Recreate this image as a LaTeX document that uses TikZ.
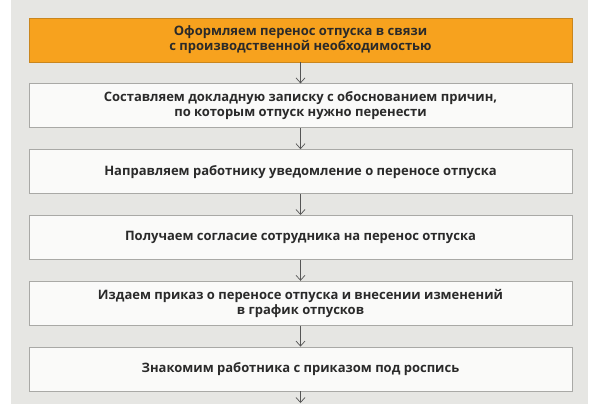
\documentclass[tikz,border=0pt]{standalone}
\usepackage{fontspec}
\setmainfont{Open Sans}
\usetikzlibrary{arrows.meta,positioning}
\definecolor{panelgray}{HTML}{E6E6E3}
\definecolor{stepedge}{HTML}{A9A9A6}
\definecolor{stepfill}{HTML}{FAFAF9}
\definecolor{orangefill}{HTML}{F7A21E}
\definecolor{orangeedge}{HTML}{C9861E}
\definecolor{steptext}{HTML}{2A2A2A}
\definecolor{arrowgray}{HTML}{555555}
\tikzset{
  stepbox/.style={draw=stepedge, fill=stepfill, line width=0.8pt, align=center,
    minimum width=543pt, minimum height=44pt, inner sep=0pt, text=steptext,
    font=\fontsize{13}{15}\selectfont\bfseries},
  firstbox/.style={stepbox, draw=orangeedge, fill=orangefill},
  flow/.style={->, draw=arrowgray, line width=0.7pt}
}
\begin{document}
\begin{tikzpicture}[>={Straight Barb[length=5pt,width=9pt]}, node distance=21pt]
    \useasboundingbox (0,0) rectangle (599pt,-404pt);
    \fill[panelgray] (11pt,0) rectangle (588pt,-404pt);
    \node[firstbox] (start) at (300.5pt,-40pt) {Оформляем перенос отпуска в связи\\с производственной необходимостью};
    \node[stepbox, below=of start] (memo) {Составляем докладную записку с обоснованием причин,\\по которым отпуск нужно перенести};
    \node[stepbox, below=of memo] (notice) {Направляем работнику уведомление о переносе отпуска};
    \node[stepbox, below=of notice] (consent) {Получаем согласие сотрудника на перенос отпуска};
    \node[stepbox, below=of consent] (order) {Издаем приказ о переносе отпуска и внесении изменений\\в график отпусков};
    \node[stepbox, below=of order] (sign) {Знакомим работника с приказом под роспись};
    \coordinate (next) at (300.5pt,-403pt);
    \draw[flow] (start) -- (memo);
    \draw[flow] (memo) -- (notice);
    \draw[flow] (notice) -- (consent);
    \draw[flow] (consent) -- (order);
    \draw[flow] (order) -- (sign);
    \draw[flow] (sign) -- (next);
  \end{tikzpicture}
\end{document}
